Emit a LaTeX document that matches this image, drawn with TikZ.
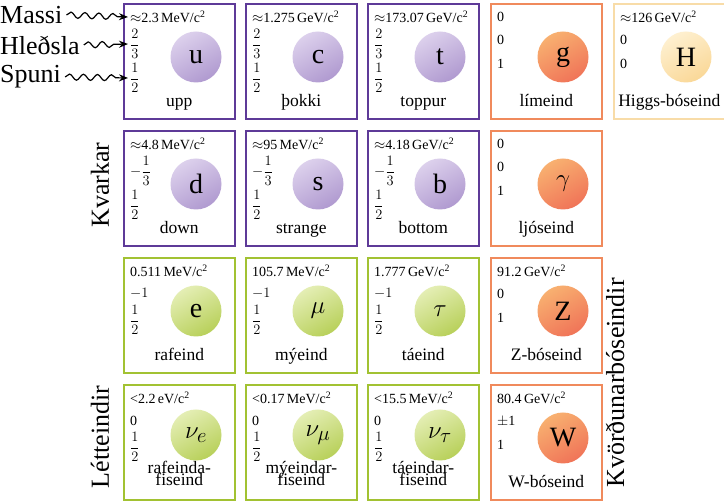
\documentclass[tikz,border=0pt]{standalone}
\usepackage{fontspec}
\setmainfont{Liberation Serif}
\usetikzlibrary{decorations.pathmorphing,arrows.meta}
\definecolor{qB}{HTML}{5E3A98}\definecolor{qL}{HTML}{DCD0EC}\definecolor{qD}{HTML}{B09AD0}
\definecolor{lB}{HTML}{A2C232}\definecolor{lL}{HTML}{E4EEB4}\definecolor{lD}{HTML}{B8D05A}
\definecolor{gB}{HTML}{F08A5C}\definecolor{gL}{HTML}{F8B070}\definecolor{gD}{HTML}{F07458}
\definecolor{hB}{HTML}{F8DCA8}\definecolor{hL}{HTML}{FEF0D0}\definecolor{hD}{HTML}{FAD898}
\tikzset{
 box/.style={draw, line width=1.6pt, minimum width=111pt, minimum height=115pt, inner sep=0pt},
 q/.style={qB}, l/.style={lB}, g/.style={gB}, h/.style={hB},
 qc/.style={top color=qL, bottom color=qD, shading angle=30},
 lc/.style={top color=lL, bottom color=lD, shading angle=30},
 gc/.style={top color=gL, bottom color=gD, shading angle=30},
 hc/.style={top color=hL, bottom color=hD, shading angle=30},
 ball/.style={circle, minimum size=51pt, inner sep=0pt, font=\fontsize{28}{28}\selectfont},
 mass/.style={anchor=west, font=\fontsize{14}{14}\selectfont, inner sep=0pt},
 qn/.style={anchor=west, font=\fontsize{14}{14}\selectfont, inner sep=0pt},
 lab/.style={font=\fontsize{17.5}{17}\selectfont, align=center, inner sep=0pt},
 side/.style={font=\fontsize{26}{26}\selectfont, rotate=90, inner sep=0pt},
 wav/.style={-{Stealth[length=9pt,width=7pt]}, line width=1.2pt, decorate, decoration={snake, amplitude=3pt, segment length=14pt, post length=9pt}},
 legend/.style={font=\fontsize{26}{26}\selectfont, anchor=west, inner sep=0pt}
}
\newcommand\fr[2]{{\fontsize{13.5}{13}\selectfont$\displaystyle\frac{#1}{#2}$}}
\def\qy{37}\def\py{61}\def\ny{104}\def\by{54}
% #1 x-left #2 y-top #3 style #4 mass #5 charge #6 spin #7 symbol #8 label #9 id
\newcommand\prt[9]{%
 \node[box,#3,anchor=north west] (#9) at (#1,#2) {};
 \node[ball,#3c] (#9s) at ([xshift=73pt,yshift=-\by pt]#9.north west) {#7};
 \node[mass] (#9m) at ([xshift=7pt,yshift=-14pt]#9.north west) {#4};
 \node[qn] (#9q) at ([xshift=7pt,yshift=-\qy pt]#9.north west) {#5};
 \node[qn] (#9p) at ([xshift=7pt,yshift=-\py pt]#9.north west) {#6};
 \node[lab,anchor=base] (#9n) at ([yshift=-\ny pt]#9.north) {#8};
}
\def\MeV{\,MeV/c\textsuperscript{2}}\def\GeV{\,GeV/c\textsuperscript{2}}
\begin{document}
\begin{tikzpicture}[x=1pt,y=1pt]
\useasboundingbox[fill=white] (0,0) rectangle (724,-502);
\def\qy{41}\def\py{75}
\prt{123}{-3}{q}{$\approx$2.3\MeV}{\fr23}{\fr12}{u}{upp}{u}
\prt{245}{-3}{q}{$\approx$1.275\GeV}{\fr23}{\fr12}{c}{þokki}{c}
\prt{367}{-3}{q}{$\approx$173.07\GeV}{\fr23}{\fr12}{t}{toppur}{t}
\prt{123}{-130}{q}{$\approx$4.8\MeV}{$-$\fr13}{\fr12}{d}{down}{d}
\prt{245}{-130}{q}{$\approx$95\MeV}{$-$\fr13}{\fr12}{s}{strange}{s}
\prt{367}{-130}{q}{$\approx$4.18\GeV}{$-$\fr13}{\fr12}{b}{bottom}{b}
\def\qy{37}\def\py{61}
\prt{490}{-3}{g}{0}{0}{1}{g}{límeind}{g}
\prt{613}{-3}{h}{$\approx$126\GeV}{0}{0}{H}{Higgs-bóseind}{H}
\prt{490}{-130}{g}{0}{0}{1}{$\gamma$}{ljóseind}{gam}
\prt{490}{-257}{g}{91.2\GeV}{0}{1}{Z}{Z-bóseind}{Z}
\prt{490}{-384}{g}{80.4\GeV}{$\pm$1}{1}{W}{W-bóseind}{W}
\def\qy{36}\def\py{63}
\prt{123}{-257}{l}{0.511\MeV}{$-1$}{\fr12}{e}{rafeind}{e}
\prt{245}{-257}{l}{105.7\MeV}{$-1$}{\fr12}{$\mu$}{mýeind}{mu}
\prt{367}{-257}{l}{1.777\GeV}{$-1$}{\fr12}{$\tau$}{táeind}{tau}
\def\qy{37}\def\py{63}\def\ny{102}\def\by{51}
\prt{123}{-384}{l}{<2.2\,eV/c\textsuperscript{2}}{0}{\fr12}{$\nu_e$}{rafeinda-\\[-5pt]fiseind}{ne}
\prt{245}{-384}{l}{<0.17\MeV}{0}{\fr12}{$\nu_\mu$}{mýeindar-\\[-5pt]fiseind}{nm}
\prt{367}{-384}{l}{<15.5\MeV}{0}{\fr12}{$\nu_\tau$}{táeindar-\\[-5pt]fiseind}{nt}
\node[side] (kv) at (100,-185) {Kvarkar};
\node[side] (le) at (100,-437) {Létteindir};
\node[side] (kb) at (615,-383) {Kvörðunarbóseindir};
\node[legend] (ma) at (0,-15) {Massi};
\node[legend] (hl) at (0,-45) {Hleðsla};
\node[legend] (sp) at (0,-77) {Spuni};
\draw[wav] ([xshift=4pt]ma.east) -- ([xshift=-2pt]um.west);
\draw[wav] ([xshift=4pt]hl.east) -- ([xshift=-2pt]uq.west);
\draw[wav] ([xshift=4pt]sp.east) -- ([xshift=-2pt]up.west);
\end{tikzpicture}
\end{document}
